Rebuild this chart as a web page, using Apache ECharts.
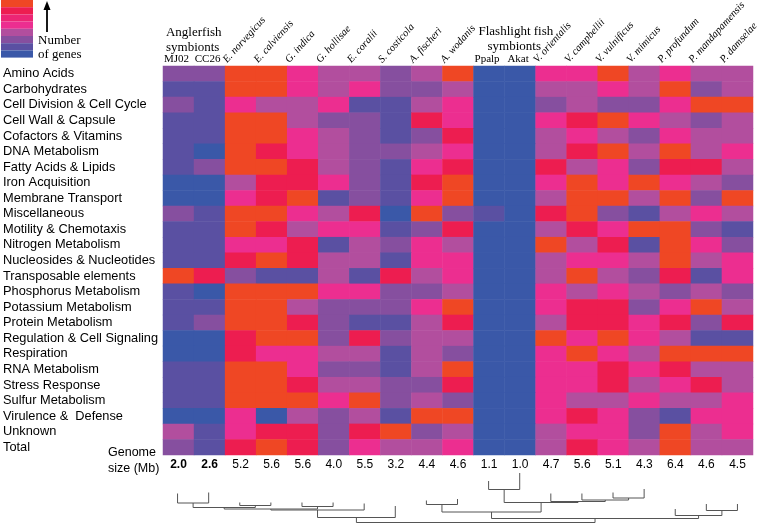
<!DOCTYPE html>
<html><head><meta charset="utf-8">
<script src="https://cdn.jsdelivr.net/npm/echarts@6/dist/echarts.min.js"></script>
<style>html,body{margin:0;padding:0;background:#fff}#c{width:760px;height:532px}</style>
</head><body><div id="c"></div>
<script>
// Functional categories (rows)
const categories = ['Amino Acids','Carbohydrates','Cell Division & Cell Cycle','Cell Wall & Capsule','Cofactors & Vitamins','DNA Metabolism','Fatty Acids & Lipids','Iron Acquisition','Membrane Transport','Miscellaneous','Motility & Chemotaxis','Nitrogen Metabolism','Nucleosides & Nucleotides','Transposable elements','Phosphorus Metabolism','Potassium Metabolism','Protein Metabolism','Regulation & Cell Signaling','Respiration','RNA Metabolism','Stress Response','Sulfur Metabolism','Virulence &  Defense','Unknown','Total'];
// Genomes (columns)
const strains = ['MJ02','CC26','E. norvegicus','E. calviensis','G. indica','G. hollisae','E. coralii','S. costicola','A. fischeri','A. wodanis','Ppalp','Akat','V. orientalis','V. campbellii','V. vulnificus','V. mimicus','P. profundum','P. mandapamensis','P. damselae'];
const symbiontStrains = ['MJ02','CC26','Ppalp','Akat'];
const genomeSizes = ['2.0','2.6','5.2','5.6','5.6','4.0','5.5','3.2','4.4','4.6','1.1','1.0','4.7','5.6','5.1','4.3','6.4','4.6','4.5'];
const boldSizes = ['MJ02','CC26'];
// Colour level (0 = fewest genes ... 7 = most genes), one row per category
const levels = [
  [2,2,7,7,4,3,3,2,3,7,0,0,4,4,7,3,4,3,3],
  [1,1,7,7,4,3,4,2,2,3,0,0,3,3,4,3,7,2,3],
  [2,1,4,3,3,4,1,1,3,4,0,0,2,3,2,2,4,7,7],
  [1,1,7,7,3,2,2,1,6,4,0,0,4,6,7,4,3,2,3],
  [1,1,7,7,4,3,2,1,2,6,0,0,3,4,3,2,4,3,3],
  [1,0,7,6,4,3,2,2,3,4,0,0,3,6,7,3,7,3,4],
  [1,2,7,7,6,3,2,1,4,6,0,0,6,3,4,2,6,6,3],
  [0,0,3,6,6,4,2,1,6,7,0,0,4,7,4,7,4,3,2],
  [0,0,4,6,7,1,2,1,4,7,0,0,3,7,7,3,7,2,7],
  [2,1,7,7,4,3,6,0,7,2,1,0,6,7,2,1,3,4,3],
  [1,1,7,6,3,4,4,1,2,6,0,0,3,6,4,7,7,2,1],
  [1,1,4,4,6,1,3,2,4,3,0,0,7,3,6,1,7,4,2],
  [1,1,6,7,6,3,3,1,4,4,0,0,3,4,4,3,7,3,4],
  [7,6,2,1,1,3,1,6,3,4,0,0,3,7,3,2,6,1,4],
  [1,0,7,7,7,4,4,2,2,3,0,0,4,3,4,3,2,3,2],
  [1,1,7,7,3,2,2,2,4,7,0,0,4,6,6,2,4,7,3],
  [1,2,7,7,6,2,1,1,3,6,0,0,3,6,6,4,6,2,6],
  [0,0,6,7,7,2,6,2,3,3,0,0,7,4,7,4,3,1,1],
  [0,0,6,4,4,3,3,1,3,2,0,0,4,7,4,3,7,7,7],
  [1,1,7,7,4,2,2,1,3,7,0,0,4,4,6,4,6,3,3],
  [1,1,7,7,6,3,3,2,2,6,0,0,4,4,6,3,4,6,3],
  [1,1,7,7,7,4,7,2,3,2,0,0,4,3,3,4,3,3,4],
  [0,0,4,0,3,2,3,1,7,7,0,0,4,6,4,2,1,4,4],
  [3,1,4,6,6,2,6,7,2,3,0,0,3,4,4,2,7,3,4],
  [2,1,6,7,6,2,4,3,3,4,0,0,3,6,4,3,7,3,3]
];
const levelColors = ['#3A58A8','#5A50A2','#864F9F','#B24E9E','#EC2E90','#EC2574','#ED1D50','#EF4724'];
// Dendrogram: leaf heights (one per column) and merges [childA, childB, height]
// children: 0..18 = leaves (columns), 19+k = merge k
const leafTop = [33.5,32.5,42.5,42.5,42.5,42.5,43.5,46,40.5,39,21,13.0,33.5,33.5,32.5,29,49,44,44];
const merges = [
  [0,1,43.0],[2,3,45.5],[4,5,46.5],[19,20,47.5],[22,21,49.0],[23,6,50.0],[24,7,57.5],
  [8,9,44.5],[10,11,29.5],[14,15,38.0],[13,28,40.0],[12,29,41.5],[27,30,42.5],[26,31,52.0],
  [17,18,50.5],[16,33,55.5],[32,34,58.5],[25,35,62.5]
];

const heatData = [];
levels.forEach((row, r) => row.forEach((v, c) => heatData.push([c, r, v])));

const nodeX = strains.map((s, i) => i);
const nodeH = leafTop.slice();
const dendroData = merges.map(m => {
  const a = m[0], b = m[1];
  const item = [nodeX[a], nodeH[a], nodeX[b], nodeH[b], m[2]];
  nodeX.push((nodeX[a] + nodeX[b]) / 2);
  nodeH.push(m[2]);
  return item;
});

const SANS = 'Liberation Sans, Arial, sans-serif';
const SERIF = 'Liberation Serif, Times New Roman, serif';

const chart = echarts.init(document.getElementById('c'), null, {renderer: 'canvas'});
chart.setOption({
  animation: false,
  grid: [
    {left: 162, top: 66, width: 591, height: 389},
    {left: 162, top: 460, width: 591, height: 72}
  ],
  xAxis: [
    {type: 'category', gridIndex: 0, data: strains, position: 'bottom',
     axisLine: {show: false}, axisTick: {show: false}, splitLine: {show: false},
     axisLabel: {interval: 0, margin: 4, color: '#000', fontSize: 12, fontFamily: SANS,
       formatter: (v, i) => boldSizes.includes(v) ? '{b|' + genomeSizes[i] + '}' : genomeSizes[i],
       rich: {b: {fontWeight: 'bold', fontSize: 12, fontFamily: SANS, color: '#000'}}}},
    {type: 'value', gridIndex: 1, min: -0.5, max: 18.5, show: false}
  ],
  yAxis: [
    {type: 'category', gridIndex: 0, data: categories, inverse: true,
     axisLine: {show: false}, axisTick: {show: false}, splitLine: {show: false},
     axisLabel: {interval: 0, align: 'left', margin: 160, color: '#000', fontSize: 12.8, fontFamily: SANS}},
    {type: 'value', gridIndex: 1, min: 0, max: 72, inverse: true, show: false}
  ],
  visualMap: {
    type: 'piecewise', seriesIndex: 0, orient: 'vertical', left: 1, top: 0, padding: 0,
    itemWidth: 32, itemHeight: 7.2, itemGap: 0, itemSymbol: 'rect', showLabel: false,
    selectedMode: false, hoverLink: false, textGap: 0,
    pieces: levelColors.map((col, i) => ({value: i, color: col}))
  },
  series: [
    {type: 'heatmap', xAxisIndex: 0, yAxisIndex: 0, data: heatData,
     itemStyle: {borderWidth: 0}, emphasis: {disabled: true}},
    {type: 'custom', xAxisIndex: 1, yAxisIndex: 1, data: dendroData, clip: false,
     encode: {x: [0, 2], y: [1, 3, 4]}, silent: true,
     renderItem: (params, api) => {
       const p1 = api.coord([api.value(0), api.value(1)]);
       const p2 = api.coord([api.value(0), api.value(4)]);
       const p3 = api.coord([api.value(2), api.value(4)]);
       const p4 = api.coord([api.value(2), api.value(3)]);
       return {type: 'polyline', shape: {points: [p1, p2, p3, p4]},
               style: {stroke: '#555', fill: null, lineWidth: 1}};
     }}
  ]
});

// Header texts placed from the category axis scale
const half = 591 / strains.length / 2;
const graphics = [];
strains.forEach((s, j) => {
  const cx = chart.convertToPixel({xAxisIndex: 0}, j);
  if (symbiontStrains.includes(s)) {
    graphics.push({type: 'text', x: cx - 2, y: 59, style: {text: s, font: '11px ' + SERIF, fill: '#000',
      textAlign: 'center', textVerticalAlign: 'middle'}});
  } else {
    graphics.push({type: 'text', x: cx - half + 4, y: 65, rotation: Math.PI * 48 / 180,
      style: {text: s, font: 'italic 10.5px ' + SERIF, fill: '#000', textAlign: 'left', textVerticalAlign: 'bottom'}});
  }
});
const c0 = chart.convertToPixel({xAxisIndex: 0}, 0) - half;
const c10 = chart.convertToPixel({xAxisIndex: 0}, 10) - half;
graphics.push({type: 'text', x: c0 + 3, y: 25, style: {text: 'Anglerfish\nsymbionts', font: '13px ' + SERIF, lineHeight: 15, fill: '#000', textAlign: 'left', textVerticalAlign: 'top'}});
graphics.push({type: 'text', x: c10 + 5, y: 25, style: {text: 'Flashlight fish', font: '13px ' + SERIF, fill: '#000', textAlign: 'left', textVerticalAlign: 'top'}});
graphics.push({type: 'text', x: c10 + 14, y: 40, style: {text: 'symbionts', font: '13px ' + SERIF, fill: '#000', textAlign: 'left', textVerticalAlign: 'top'}});
graphics.push({type: 'text', x: 38, y: 34, style: {text: 'Number\nof genes', font: '13px ' + SERIF, lineHeight: 14, fill: '#000', textAlign: 'left', textVerticalAlign: 'top'}});
graphics.push({type: 'line', shape: {x1: 47, y1: 32, x2: 47, y2: 6}, style: {stroke: '#000', lineWidth: 1.8}});
graphics.push({type: 'polygon', shape: {points: [[47, 1], [43.5, 10], [50.5, 10]]}, style: {fill: '#000'}});
graphics.push({type: 'text', x: 108, y: 445, style: {text: 'Genome\nsize (Mb)', font: '12.5px ' + SANS, lineHeight: 16, fill: '#000', textAlign: 'left', textVerticalAlign: 'top'}});
chart.setOption({graphic: graphics});
</script></body></html>
